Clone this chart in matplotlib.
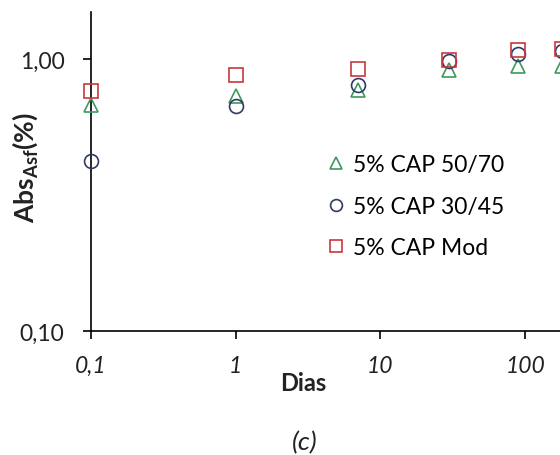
import matplotlib
matplotlib.use('Agg')
import matplotlib.pyplot as plt
from matplotlib.ticker import FixedLocator, NullLocator

plt.rcParams['font.family'] = ['Lato', 'DejaVu Sans']

# absorption results per curing time
dias = [0.1, 1, 7, 30, 90, 180]
cap_50_70 = [0.68, 0.73, 0.77, 0.91, 0.94, 0.94]
cap_30_45 = [0.42, 0.67, 0.80, 0.98, 1.04, 1.07]
cap_mod = [0.76, 0.87, 0.92, 0.99, 1.08, 1.09]

x_ticks = [0.1, 1, 10, 100]
x_labels = ['0,1', '1', '10', '100']
y_ticks = [0.1, 1.0]
y_labels = ['0,10', '1,00']

W, H = 560, 456
fig = plt.figure(figsize=(W / 100, H / 100), dpi=100)
fig.patch.set_facecolor('white')

# axes box in pixel terms: left spine at x=91, bottom at y=332, top at y=13
left, bottom, top = 91, 332, 13
ax = fig.add_axes([left / W, (H - bottom) / H, (W - left) / W, (bottom - top) / H])

ax.set_xscale('log')
ax.set_yscale('log')
decade_x = 144.7
decade_y = 272.0
ax.set_xlim(0.1, 0.1 * 10 ** ((W - left) / decade_x))
ax.set_ylim(0.1, 0.1 * 10 ** ((bottom - top) / decade_y))

fs = 16.5
ms = 10
ax.plot(dias, cap_50_70, linestyle='none', marker='^', ms=ms, mfc='none',
        mec='#3E9A5C', mew=1.2, clip_on=False, label='5% CAP 50/70', zorder=3)
ax.plot(dias, cap_30_45, linestyle='none', marker='o', ms=ms, mfc='none',
        mec='#2F3B66', mew=1.2, clip_on=False, label='5% CAP 30/45', zorder=3)
ax.plot(dias, cap_mod, linestyle='none', marker='s', ms=ms, mfc='none',
        mec='#C9373D', mew=1.2, clip_on=False, label='5% CAP Mod', zorder=3)

for s in ['top', 'right']:
    ax.spines[s].set_visible(False)
for s in ['left', 'bottom']:
    ax.spines[s].set_linewidth(1.2)
    ax.spines[s].set_color('black')

ax.xaxis.set_major_locator(FixedLocator(x_ticks))
ax.xaxis.set_minor_locator(NullLocator())
ax.set_xticklabels(x_labels, fontsize=fs, fontstyle='italic', color='#222222')
ax.yaxis.set_major_locator(FixedLocator(y_ticks))
ax.yaxis.set_minor_locator(NullLocator())
ax.set_yticklabels(y_labels, fontsize=fs, color='#222222')
ax.tick_params(axis='x', direction='out', length=6, width=1.2, pad=11)
ax.tick_params(axis='y', direction='out', length=6, width=1.2, pad=13)

fig.text(303 / W, 1 - 384 / H, 'Dias', ha='center', va='center',
         fontsize=17, fontweight='bold', color='#222222')
fig.text(25 / W, 1 - 168 / H, r'Abs$_{\mathregular{Asf}}$(%)', ha='center', va='center',
         rotation=90, fontsize=19, fontweight='bold', color='#222222')
fig.text(305 / W, 1 - 443 / H, '(c)', ha='center', va='center',
         fontsize=19, fontstyle='italic', color='#222222')

ax.legend(loc='upper left', bbox_to_anchor=(328 / W, 1 - 155 / H),
          bbox_transform=fig.transFigure, frameon=False, fontsize=fs,
          handlelength=0.7, handletextpad=0.4, labelspacing=0.9,
          borderaxespad=0, borderpad=0, markerscale=0.85)

fig.savefig('out.png', dpi=100)
